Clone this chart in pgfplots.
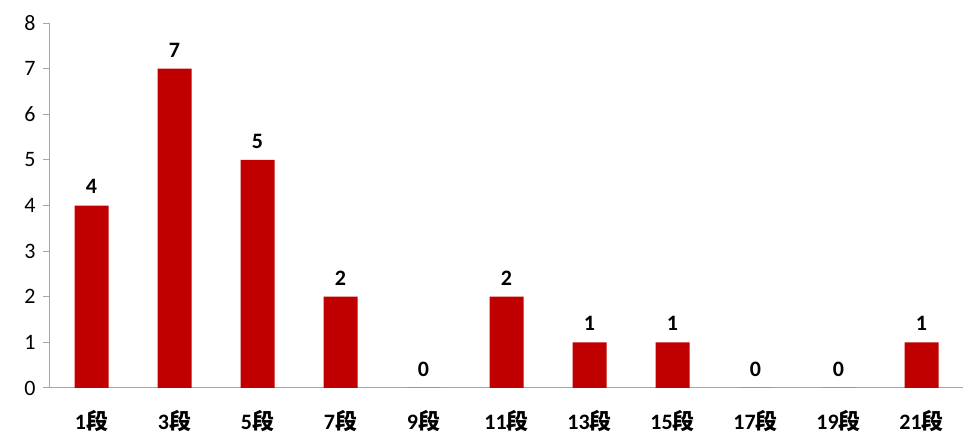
\documentclass[border=0pt]{standalone}
\usepackage{fontspec}
\setmainfont{Carlito}
\newfontfamily\cjk{Noto Sans CJK SC}
\usepackage{pgfplots}
\pgfplotsset{compat=1.18}
\definecolor{barred}{HTML}{C00000}
\definecolor{axgray}{HTML}{A6A6A6}
\begin{document}
\begin{tikzpicture}
\useasboundingbox (-50pt,-53pt) rectangle (919pt,388pt);
\begin{axis}[
  scale only axis,
  width=913pt, height=365pt,
  xmin=-0.5, xmax=10.5, ymin=0, ymax=8,
  axis x line*=bottom, axis y line*=left,
  axis line style={draw=axgray, line width=1pt},
  ytick={0,...,8},
  xtick={0,...,10},
  xticklabels={1{\cjk 段},3{\cjk 段},5{\cjk 段},7{\cjk 段},9{\cjk 段},11{\cjk 段},13{\cjk 段},15{\cjk 段},17{\cjk 段},19{\cjk 段},21{\cjk 段}},
  x tick label style={font=\fontsize{22}{26}\selectfont\bfseries, yshift=-12pt},
  y tick label style={font=\fontsize{22}{26}\selectfont, xshift=-4pt},
  /pgf/number format/assume math mode=true,
  tick align=outside,
  major tick length=7pt,
  y tick style={draw=axgray, line width=1pt},
  x tick style={draw=none},
  extra x ticks={-0.5,0.5,1.5,2.5,3.5,4.5,5.5,6.5,7.5,8.5,9.5,10.5},
  extra x tick labels={},
  extra x tick style={tick style={draw=axgray, line width=1pt}, major tick length=7pt},
  clip=false,
]
\addplot[ybar, bar width=34pt, fill=barred, draw=none,
  nodes near coords,
  every node near coord/.append style={font=\fontsize{22}{26}\selectfont\bfseries, yshift=8pt},
  /pgf/number format/assume math mode=true]
  coordinates {(0,4) (1,7) (2,5) (3,2) (4,0) (5,2) (6,1) (7,1) (8,0) (9,0) (10,1)};
\end{axis}
\end{tikzpicture}
\end{document}
